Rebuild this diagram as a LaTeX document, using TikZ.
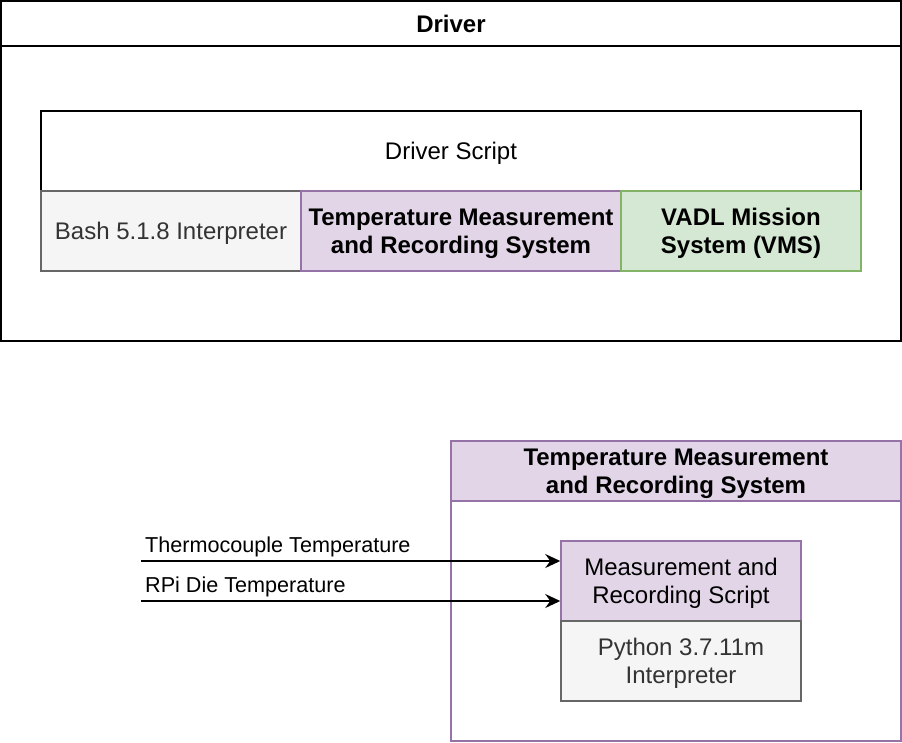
\documentclass[tikz,border=0pt]{standalone}
\usepackage{fontspec}
\setmainfont{Liberation Sans}
\usetikzlibrary{arrows.meta}
\definecolor{purplefill}{HTML}{E1D5E7}
\definecolor{purpleline}{HTML}{9673A6}
\definecolor{greenfill}{HTML}{D5E8D4}
\definecolor{greenline}{HTML}{82B366}
\definecolor{grayfill}{HTML}{F5F5F5}
\definecolor{grayline}{HTML}{666666}
\definecolor{graytext}{HTML}{333333}
\begin{document}
\begin{tikzpicture}[x=1pt,y=-1pt,
  box/.style={rectangle,draw=black,line width=1.5pt,inner sep=0pt,align=center,
    text depth=-1pt,font=\fontsize{24}{28}\selectfont},
  bbox/.style={box,font=\fontsize{24}{28}\selectfont\bfseries},
  tmrs/.style={fill=purplefill,draw=purpleline},
  vms/.style={fill=greenfill,draw=greenline},
  interp/.style={fill=grayfill,draw=grayline,text=graytext},
  lbl/.style={inner sep=0pt,font=\fontsize{21.6}{26}\selectfont},
  flow/.style={line width=1.5pt,-{Stealth[length=15pt,width=14pt,inset=5pt]}}]

  \useasboundingbox (0,0) rectangle (902,742);

  \node[bbox,minimum width=900pt,minimum height=45pt] (drvhead) at (451,23.5) {Driver};
  \node[box,minimum width=900pt,minimum height=295pt] (drv) at (451,193.5) {};

  \node[box,minimum width=820pt,minimum height=80pt] (script) at (451,151) {Driver Script};
  \node[box,interp,minimum width=260pt,minimum height=80pt] (bash) at (171,231) {Bash 5.1.8 Interpreter};
  \node[bbox,tmrs,minimum width=320pt,minimum height=80pt] (temp) at (461,231) {Temperature Measurement\\and Recording System};
  \node[bbox,vms,minimum width=240pt,minimum height=80pt] (vadl) at (741,231) {VADL Mission\\System (VMS)};

  \node[bbox,tmrs,minimum width=450pt,minimum height=60pt] (syshead) at (676,471) {Temperature Measurement\\and Recording System};
  \node[box,draw=purpleline,minimum width=450pt,minimum height=240pt] (sys) at (676,621) {};

  \node[box,tmrs,minimum width=240pt,minimum height=80pt] (mrs) at (681,581) {Measurement and\\Recording Script};
  \node[box,interp,minimum width=240pt,minimum height=80pt] (python) at (681,661) {Python 3.7.11m\\Interpreter};

  \coordinate (th) at (141,561);
  \coordinate (rpi) at (141,601);
  \node[lbl,anchor=base west] (thlbl) at (145,552) {Thermocouple Temperature};
  \node[lbl,anchor=base west] (rpilbl) at (145,592) {RPi Die Temperature};

  \draw[flow] (th) -- (th -| mrs.west);
  \draw[flow] (rpi) -- (rpi -| mrs.west);
\end{tikzpicture}
\end{document}
